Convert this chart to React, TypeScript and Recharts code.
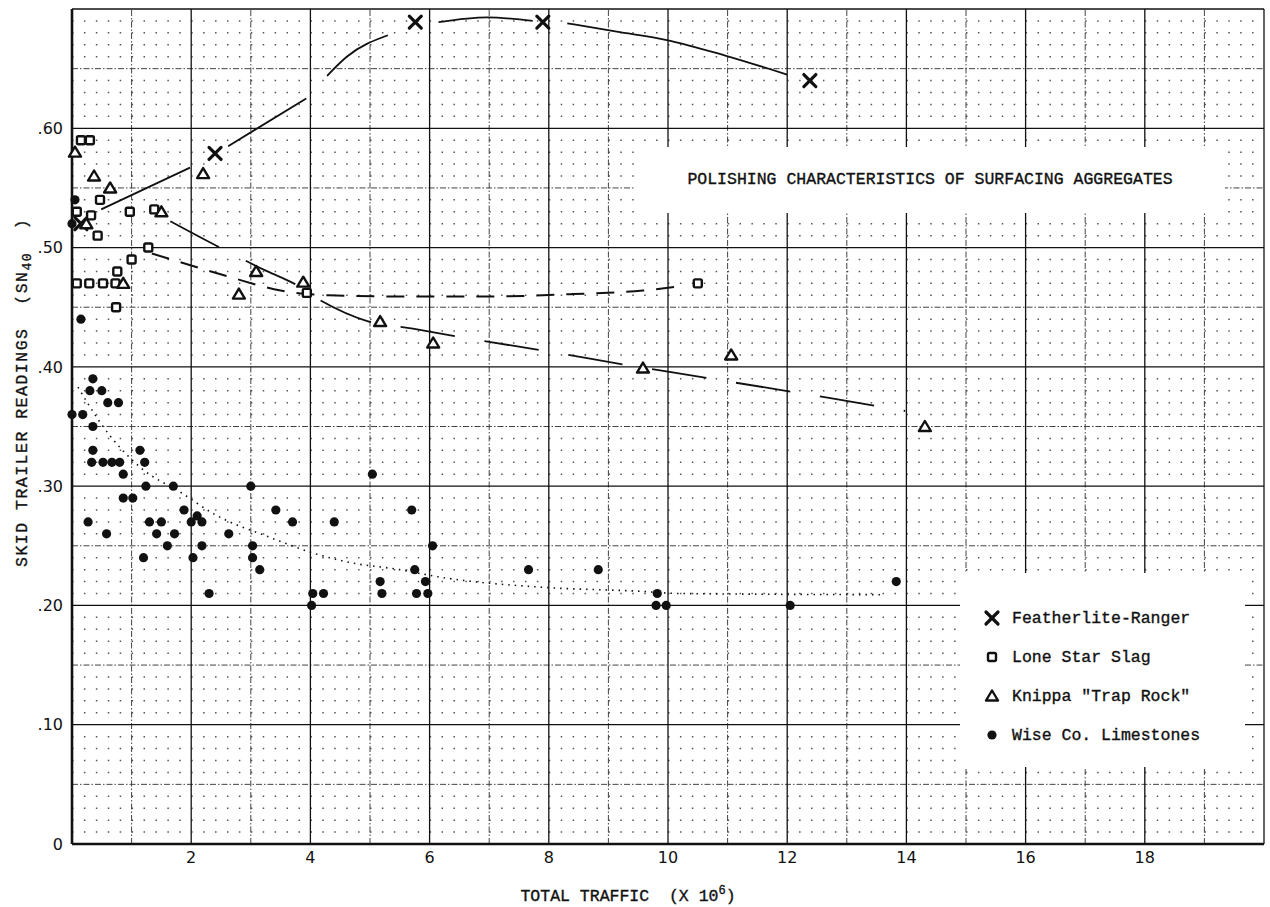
import React from "react";
import { ComposedChart, Scatter, Line, XAxis, YAxis, ReferenceLine, Legend } from "recharts";

// measured points (x = total traffic in millions, y = SN40)
const featherliteRanger = [
  { x: 0.15, y: 0.52 },
  { x: 2.4, y: 0.579 },
  { x: 5.76, y: 0.689 },
  { x: 7.9, y: 0.689 },
  { x: 12.38, y: 0.64 },
];

const loneStarSlag = [
  { x: 0.15, y: 0.59 },
  { x: 0.3, y: 0.59 },
  { x: 0.08, y: 0.53 },
  { x: 0.47, y: 0.54 },
  { x: 0.32, y: 0.527 },
  { x: 0.43, y: 0.51 },
  { x: 0.97, y: 0.53 },
  { x: 1.38, y: 0.532 },
  { x: 1.28, y: 0.5 },
  { x: 1.0, y: 0.49 },
  { x: 0.76, y: 0.48 },
  { x: 0.08, y: 0.47 },
  { x: 0.29, y: 0.47 },
  { x: 0.52, y: 0.47 },
  { x: 0.73, y: 0.47 },
  { x: 0.74, y: 0.45 },
  { x: 3.94, y: 0.462 },
  { x: 10.5, y: 0.47 },
];

const knippaTrapRock = [
  { x: 0.05, y: 0.58 },
  { x: 0.37, y: 0.56 },
  { x: 0.64, y: 0.55 },
  { x: 2.2, y: 0.562 },
  { x: 1.5, y: 0.53 },
  { x: 0.24, y: 0.52 },
  { x: 0.86, y: 0.47 },
  { x: 3.09, y: 0.48 },
  { x: 2.8, y: 0.461 },
  { x: 3.88, y: 0.471 },
  { x: 5.17, y: 0.438 },
  { x: 6.06, y: 0.42 },
  { x: 9.58, y: 0.399 },
  { x: 11.06, y: 0.41 },
  { x: 14.31, y: 0.35 },
];

const wiseCoLimestones = [
  { x: 0.0, y: 0.52 }, { x: 0.05, y: 0.54 }, { x: 0.15, y: 0.44 },
  { x: 0.35, y: 0.39 }, { x: 0.3, y: 0.38 }, { x: 0.5, y: 0.38 },
  { x: 0.6, y: 0.37 }, { x: 0.78, y: 0.37 }, { x: 0.0, y: 0.36 },
  { x: 0.18, y: 0.36 }, { x: 0.35, y: 0.35 }, { x: 0.35, y: 0.33 },
  { x: 0.33, y: 0.32 }, { x: 0.52, y: 0.32 }, { x: 0.67, y: 0.32 },
  { x: 0.8, y: 0.32 }, { x: 0.86, y: 0.31 }, { x: 1.14, y: 0.33 },
  { x: 1.22, y: 0.32 }, { x: 1.24, y: 0.3 }, { x: 1.7, y: 0.3 },
  { x: 3.0, y: 0.3 }, { x: 0.86, y: 0.29 }, { x: 1.02, y: 0.29 },
  { x: 0.27, y: 0.27 }, { x: 0.58, y: 0.26 }, { x: 1.3, y: 0.27 },
  { x: 1.5, y: 0.27 }, { x: 1.42, y: 0.26 }, { x: 1.72, y: 0.26 },
  { x: 1.6, y: 0.25 }, { x: 1.2, y: 0.24 }, { x: 1.88, y: 0.28 },
  { x: 2.1, y: 0.275 }, { x: 2.0, y: 0.27 }, { x: 2.18, y: 0.27 },
  { x: 2.18, y: 0.25 }, { x: 2.03, y: 0.24 }, { x: 2.3, y: 0.21 },
  { x: 2.63, y: 0.26 }, { x: 3.03, y: 0.25 }, { x: 3.03, y: 0.24 },
  { x: 3.15, y: 0.23 }, { x: 3.42, y: 0.28 }, { x: 3.7, y: 0.27 },
  { x: 4.4, y: 0.27 }, { x: 4.04, y: 0.21 }, { x: 4.22, y: 0.21 },
  { x: 4.02, y: 0.2 }, { x: 5.04, y: 0.31 }, { x: 5.7, y: 0.28 },
  { x: 5.17, y: 0.22 }, { x: 5.2, y: 0.21 }, { x: 5.75, y: 0.23 },
  { x: 5.78, y: 0.21 }, { x: 5.93, y: 0.22 }, { x: 5.97, y: 0.21 },
  { x: 6.05, y: 0.25 }, { x: 7.66, y: 0.23 }, { x: 8.83, y: 0.23 },
  { x: 9.82, y: 0.21 }, { x: 9.8, y: 0.2 }, { x: 9.97, y: 0.2 },
  { x: 12.05, y: 0.2 }, { x: 13.83, y: 0.22 },
];

// hand-drawn trend curves (null = pen lifted)
const featherliteCurve = [
  { x: 0.49, y: 0.532 }, { x: 1.98, y: 0.567 }, { x: 2.3, y: null },
  { x: 2.62, y: 0.585 }, { x: 3.93, y: 0.625 }, { x: 4.1, y: null },
  { x: 4.28, y: 0.644 }, { x: 4.61, y: 0.66 }, { x: 5.3, y: 0.678 }, { x: 5.7, y: null },
  { x: 6.15, y: 0.689 }, { x: 6.97, y: 0.693 }, { x: 7.73, y: 0.69 }, { x: 8.0, y: null },
  { x: 8.31, y: 0.688 }, { x: 9.14, y: 0.681 }, { x: 9.98, y: 0.674 }, { x: 10.96, y: 0.661 }, { x: 12.0, y: 0.645 },
];

const loneStarCurve = [
  { x: 1.34, y: 0.495 }, { x: 2.0, y: 0.485 }, { x: 2.67, y: 0.475 },
  { x: 3.5, y: 0.464 }, { x: 4.3, y: 0.46 }, { x: 5.5, y: 0.459 },
  { x: 7.0, y: 0.459 }, { x: 8.4, y: 0.461 }, { x: 9.58, y: 0.464 }, { x: 10.12, y: 0.467 },
];

const knippaCurve = [
  { x: 1.65, y: 0.522 }, { x: 2.48, y: 0.5 }, { x: 3.28, y: 0.48 },
  { x: 3.72, y: 0.47 }, { x: 4.16, y: 0.456 }, { x: 4.98, y: 0.438 },
  { x: 5.72, y: 0.432 }, { x: 6.63, y: 0.424 }, { x: 8.1, y: 0.412 },
  { x: 9.25, y: 0.402 }, { x: 10.0, y: 0.396 }, { x: 11.1, y: 0.387 },
  { x: 12.7, y: 0.374 }, { x: 13.98, y: 0.363 },
];

const wiseCurve = [
  { x: 0.1, y: 0.383 }, { x: 0.52, y: 0.35 }, { x: 1.14, y: 0.316 },
  { x: 1.85, y: 0.294 }, { x: 2.37, y: 0.277 }, { x: 3.32, y: 0.257 },
  { x: 4.04, y: 0.244 }, { x: 4.66, y: 0.236 }, { x: 5.5, y: 0.23 },
  { x: 6.14, y: 0.224 }, { x: 7.97, y: 0.215 }, { x: 9.48, y: 0.212 },
  { x: 10.2, y: 0.21 }, { x: 13.56, y: 0.209 },
];

const X_TICKS = [2, 4, 6, 8, 10, 12, 14, 16, 18];
const Y_TICKS = [0, 0.1, 0.2, 0.3, 0.4, 0.5, 0.6];
const X_MAJOR = [0, 2, 4, 6, 8, 10, 12, 14, 16, 18, 20];
const Y_MAJOR = [0, 0.1, 0.2, 0.3, 0.4, 0.5, 0.6, 0.7];
const X_MID = [1, 3, 5, 7, 9, 11, 13, 15, 17, 19];
const Y_MID = [0.05, 0.15, 0.25, 0.35, 0.45, 0.55, 0.65];
// graph paper: dotted rule every 0.01
const Y_MINOR = Array.from({ length: 71 }, (_, i) => i)
  .filter((i) => i % 5 !== 0)
  .map((i) => i / 100);

const SERIES_NAMES = ["Featherlite-Ranger", "Lone Star Slag", 'Knippa "Trap Rock"', "Wise Co. Limestones"];
const TITLE = "POLISHING CHARACTERISTICS OF SURFACING AGGREGATES";

const MONO = "'Liberation Mono', 'DejaVu Sans Mono', monospace";
const LETTER = "'DejaVu Sans', sans-serif";
const INK = "#111";

const CrossShape = (p: any) => {
  const { cx, cy } = p;
  const s = 6;
  return (
    <g stroke={INK} strokeWidth={3.2} strokeLinecap="round">
      <line x1={cx - s} y1={cy - s} x2={cx + s} y2={cy + s} />
      <line x1={cx + s} y1={cy - s} x2={cx - s} y2={cy + s} />
    </g>
  );
};

const SquareShape = (p: any) => (
  <rect x={p.cx - 4} y={p.cy - 4} width={8} height={8} rx={1.5} fill="#fff" stroke={INK} strokeWidth={2.4} />
);

const TriangleShape = (p: any) => (
  <path
    d={`M${p.cx},${p.cy - 5.5} L${p.cx + 6},${p.cy + 4.5} L${p.cx - 6},${p.cy + 4.5} Z`}
    fill="#fff"
    stroke={INK}
    strokeWidth={2.4}
    strokeLinejoin="round"
  />
);

const DotShape = (p: any) => <circle cx={p.cx} cy={p.cy} r={4.6} fill={INK} />;

const SHAPES = [CrossShape, SquareShape, TriangleShape, DotShape];

const fmtY = (v: number) => (v === 0 ? "0" : "." + Math.round(v * 100));

const XTitle = (props: any) => {
  const { x, y, width } = props.viewBox;
  return (
    <text
      x={x + width / 2 - 40}
      y={y + 57}
      textAnchor="middle"
      fontFamily={MONO}
      fontSize={16.5}
      fill={INK}
      stroke={INK}
      strokeWidth={0.35}
      style={{ whiteSpace: "pre" }}
    >
      {"TOTAL TRAFFIC  (X 10"}
      <tspan dy={-7} fontSize={12}>6</tspan>
      <tspan dy={7}>)</tspan>
    </text>
  );
};

const YTitle = () => {
  const bx = 27;
  const by = 567;
  return (
    <text
      x={bx}
      y={by}
      transform={`rotate(-90, ${bx}, ${by})`}
      fontFamily={MONO}
      fontSize={16.5}
      letterSpacing={1.5}
      fill={INK}
      stroke={INK}
      strokeWidth={0.35}
      style={{ whiteSpace: "pre" }}
    >
      {"SKID TRAILER READINGS  (SN"}
      <tspan dy={4} fontSize={13}>40</tspan>
      <tspan dy={-4}>{"  )"}</tspan>
    </text>
  );
};

const LegendBox = () => (
  <div
    style={{
      position: "relative",
      width: 285,
      height: 194,
      background: "#fff",
      fontFamily: MONO,
      fontSize: 16.5,
      color: INK,
      WebkitTextStroke: "0.35px #111",
    }}
  >
    {SERIES_NAMES.map((name, i) => {
      const Shape = SHAPES[i];
      return (
        <div key={name} style={{ position: "absolute", left: 22, top: 30 + i * 39, height: 30, display: "flex", alignItems: "center", whiteSpace: "pre" }}>
          <svg width={20} height={20}>
            <Shape cx={10} cy={10} />
          </svg>
          <span style={{ marginLeft: 10 }}>{name}</span>
        </div>
      );
    })}
  </div>
);

export default function App() {
  const tick = { fill: INK, fontFamily: LETTER, fontSize: 16 };
  return (
    <div style={{ position: "fixed", left: 0, top: 0, width: 1270, height: 907, background: "#fff" }}>
      <ComposedChart width={1270} height={907} margin={{ top: 9, right: 6, bottom: 0, left: 0 }}>
        <XAxis
          type="number"
          dataKey="x"
          domain={[0, 20]}
          ticks={X_TICKS}
          interval={0}
          axisLine={false}
          tickLine={false}
          tickSize={0}
          tickMargin={8}
          height={63}
          tick={tick}
          label={<XTitle />}
        />
        <YAxis
          type="number"
          dataKey="y"
          domain={[0, 0.7]}
          ticks={Y_TICKS}
          interval={0}
          axisLine={false}
          tickLine={false}
          tickSize={0}
          tickMargin={9}
          width={72}
          tick={tick}
          tickFormatter={fmtY}
          label={<YTitle />}
        />

        {Y_MINOR.map((v) => (
          <ReferenceLine key={`ym${v}`} y={v} stroke="#555" strokeWidth={1.5} strokeDasharray="1.5 10.42" />
        ))}
        {Y_MID.map((v) => (
          <ReferenceLine key={`yd${v}`} y={v} stroke="#444" strokeWidth={1} strokeDasharray="6 2 1.5 2" />
        ))}
        {X_MID.map((v) => (
          <ReferenceLine key={`xd${v}`} x={v} stroke="#444" strokeWidth={1} strokeDasharray="6 2 1.5 2" />
        ))}
        {Y_MAJOR.map((v) => (
          <ReferenceLine key={`yM${v}`} y={v} stroke={INK} strokeWidth={v === 0 ? 2.6 : 1.3} />
        ))}
        {X_MAJOR.map((v) => (
          <ReferenceLine key={`xM${v}`} x={v} stroke={INK} strokeWidth={v === 0 ? 2.6 : 1.3} />
        ))}

        <Line data={featherliteCurve} dataKey="y" type="monotone" stroke={INK} strokeWidth={1.8} dot={false} legendType="none" isAnimationActive={false} />
        <Line data={loneStarCurve} dataKey="y" type="monotone" stroke={INK} strokeWidth={2} strokeDasharray="18 12" dot={false} legendType="none" isAnimationActive={false} />
        <Line data={knippaCurve} dataKey="y" type="monotone" stroke={INK} strokeWidth={1.8} strokeDasharray="55 30" dot={false} legendType="none" isAnimationActive={false} />
        <Line data={wiseCurve} dataKey="y" type="monotone" stroke={INK} strokeWidth={1.6} strokeDasharray="1.5 5" dot={false} legendType="none" isAnimationActive={false} />

        <Scatter name={SERIES_NAMES[0]} data={featherliteRanger} shape={CrossShape} isAnimationActive={false} />
        <Scatter name={SERIES_NAMES[1]} data={loneStarSlag} shape={SquareShape} isAnimationActive={false} />
        <Scatter name={SERIES_NAMES[2]} data={knippaTrapRock} shape={TriangleShape} isAnimationActive={false} />
        <Scatter name={SERIES_NAMES[3]} data={wiseCoLimestones} shape={DotShape} isAnimationActive={false} />

        <Legend
          layout="vertical"
          align="center"
          verticalAlign="middle"
          content={() => <LegendBox />}
          wrapperStyle={{ position: "absolute", left: 960, top: 573, width: 285, height: 194 }}
        />
      </ComposedChart>
      <div
        style={{
          position: "absolute",
          left: 635,
          top: 147,
          width: 590,
          height: 66,
          background: "#fff",
          fontFamily: MONO,
          fontSize: 16.5,
          color: INK,
          lineHeight: "66px",
          textAlign: "center",
          whiteSpace: "pre",
          WebkitTextStroke: "0.35px #111",
        }}
      >
        {TITLE}
      </div>
    </div>
  );
}
